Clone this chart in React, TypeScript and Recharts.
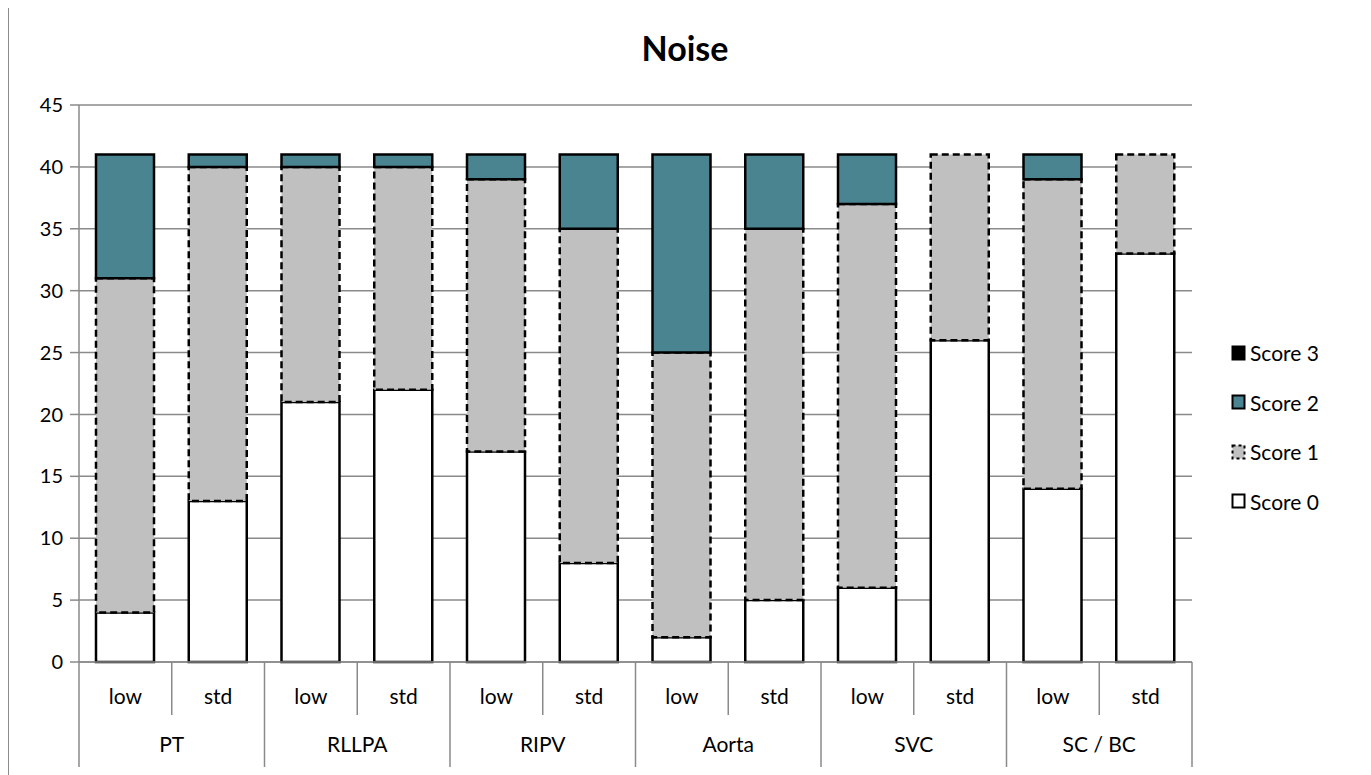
import React from "react";
import { BarChart, Bar, XAxis, YAxis, CartesianGrid } from "recharts";

const groups = ["PT", "RLLPA", "RIPV", "Aorta", "SVC", "SC / BC"];
const doses = ["low", "std"];
const score0 = [4, 13, 21, 22, 17, 8, 2, 5, 6, 26, 14, 33];
const score1 = [27, 27, 19, 18, 22, 27, 23, 30, 31, 15, 25, 8];
const score2 = [10, 1, 1, 1, 2, 6, 16, 6, 4, 0, 2, 0];
const score3 = [0, 0, 0, 0, 0, 0, 0, 0, 0, 0, 0, 0];
const yTicks = [0, 5, 10, 15, 20, 25, 30, 35, 40, 45];

const data = score0.map((v, i) => ({
  key: i,
  dose: doses[i % 2],
  group: groups[Math.floor(i / 2)],
  s0: v,
  s1: score1[i],
  s2: score2[i],
  s3: score3[i],
}));

const W = 1356;
const H = 768;
const M = { top: 98, right: 173, bottom: 3, left: 20 };
const Y_W = 50;
const PLOT_W = W - M.left - M.right - Y_W;
const BAND = PLOT_W / data.length;

const FONT = "Lato, 'Open Sans', sans-serif";
const GRID = "#8a8a8a";
const TEAL = "#4b8491";
const GRAY = "#c0c0c0";

// two-level category axis: dose under each bar, group under each pair
const XTick = (props: any) => {
  const { x, y, payload, index } = props;
  const d = data[payload.value] || data[index];
  const isLow = index % 2 === 0;
  return (
    <g>
      <text x={x} y={y + 42} textAnchor="middle" fontSize={21} fontFamily={FONT} fill="#000">
        {d.dose}
      </text>
      {index === 0 && <line x1={x - BAND / 2} x2={x - BAND / 2} y1={y} y2={y + 105} stroke={GRID} strokeWidth={1.5} />}
      {isLow ? (
        <line x1={x + BAND / 2} x2={x + BAND / 2} y1={y} y2={y + 53} stroke={GRID} strokeWidth={1.5} />
      ) : (
        <g>
          <text x={x - BAND / 2} y={y + 90} textAnchor="middle" fontSize={21} fontFamily={FONT} fill="#000">
            {d.group}
          </text>
          <line x1={x + BAND / 2} x2={x + BAND / 2} y1={y} y2={y + 105} stroke={GRID} strokeWidth={1.5} />
        </g>
      )}
    </g>
  );
};

const legendItems = [
  { label: "Score 3", fill: "#000", stroke: "#000", dash: undefined },
  { label: "Score 2", fill: TEAL, stroke: "#000", dash: undefined },
  { label: "Score 1", fill: GRAY, stroke: "#000", dash: "3 3" },
  { label: "Score 0", fill: "#fff", stroke: "#000", dash: undefined },
];

export default function App() {
  return (
    <div
      style={{
        position: "relative",
        width: W,
        height: H,
        marginTop: -2,
        border: "1px solid #8c8c8c",
        background: "#fff",
        fontFamily: FONT,
      }}
    >
      <div
        style={{
          position: "absolute",
          left: 0,
          top: 20,
          width: 1352,
          textAlign: "center",
          fontSize: 34,
          fontWeight: 700,
          color: "#000",
        }}
      >
        Noise
      </div>
      <BarChart width={W} height={H} data={data} margin={M} barSize={58}>
        <CartesianGrid horizontal vertical={false} stroke={GRID} strokeWidth={1.5} />
        <YAxis
          width={Y_W}
          domain={[0, 45]}
          ticks={yTicks}
          interval={0}
          tickSize={9}
          tickMargin={7}
          axisLine={{ stroke: GRID, strokeWidth: 1.5 }}
          tickLine={{ stroke: GRID, strokeWidth: 1.5 }}
          tick={{ fontSize: 20, fill: "#000", fontFamily: FONT }}
        />
        <XAxis
          dataKey="key"
          interval={0}
          height={110}
          tickSize={0}
          tickMargin={0}
          tickLine={false}
          axisLine={{ stroke: GRID, strokeWidth: 1.5 }}
          tick={<XTick />}
        />
        <Bar dataKey="s0" stackId="a" fill="#fff" stroke="#000" strokeWidth={2.5} isAnimationActive={false} />
        <Bar dataKey="s1" stackId="a" fill={GRAY} stroke="#000" strokeWidth={2.5} strokeDasharray="7 4" isAnimationActive={false} />
        <Bar dataKey="s2" stackId="a" fill={TEAL} stroke="#000" strokeWidth={2.5} isAnimationActive={false} />
        <Bar dataKey="s3" stackId="a" fill="#000" stroke="#000" strokeWidth={2.5} isAnimationActive={false} />
      </BarChart>
      <div style={{ position: "absolute", left: 1222, top: 321 }}>
        {legendItems.map((it) => (
          <div key={it.label} style={{ display: "flex", alignItems: "center", height: 49.5 }}>
            <svg width={16} height={16} style={{ marginRight: 3 }}>
              <rect
                x={1.5}
                y={1.5}
                width={12}
                height={13}
                fill={it.fill}
                stroke={it.stroke}
                strokeWidth={2}
                strokeDasharray={it.dash}
              />
            </svg>
            <span style={{ fontSize: 21, color: "#000" }}>{it.label}</span>
          </div>
        ))}
      </div>
    </div>
  );
}
